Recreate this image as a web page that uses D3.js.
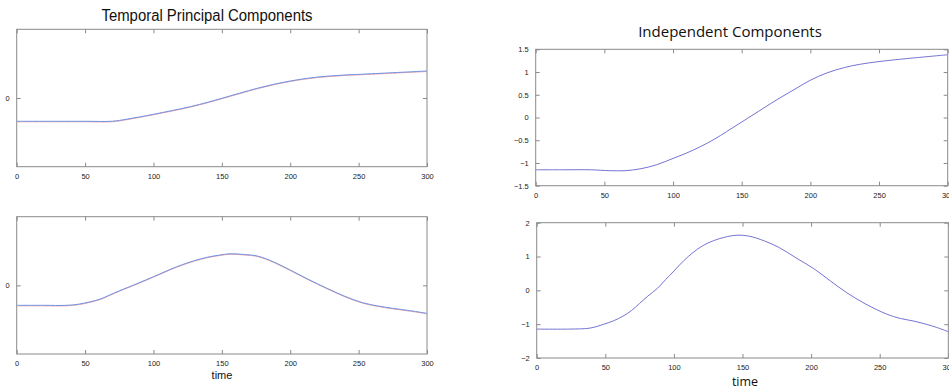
<!DOCTYPE html>
<html>
<head>
<meta charset="utf-8">
<script src="https://cdn.jsdelivr.net/npm/d3@7"></script>
<style>
  body { margin: 0; background: #fff; }
  svg { display: block; }
  .frame { fill: none; stroke: #8a8a8a; stroke-width: 1; }
  .tick line { stroke: #8a8a8a; }
  .tick text { fill: #222; font-family: "Liberation Sans", Arial, sans-serif; font-size: 7.5px; }
</style>
</head>
<body>
<script>
'use strict';

// x ticks shared by all four panels
var timeTicks = [0, 50, 100, 150, 200, 250, 300];

// Temporal principal components (left column)
var pc1Time = [0, 30, 50, 70, 80, 90, 100, 113, 127, 140, 150, 163, 176, 188, 200, 210, 220, 230, 240, 251, 275, 300];
var pc1Values = [-0.339, -0.339, -0.339, -0.338, -0.31, -0.275, -0.237, -0.185, -0.126, -0.06, -0.004, 0.07, 0.142, 0.2, 0.247, 0.28, 0.305, 0.322, 0.335, 0.345, 0.368, 0.393];

var pc2Time = [0, 20, 36, 46, 61, 68, 75, 88, 100, 117, 130, 139, 148, 156, 166, 176, 188, 200, 213, 227, 240, 253, 264, 275, 288, 300];
var pc2Values = [-0.291, -0.291, -0.291, -0.272, -0.2, -0.14, -0.08, 0.025, 0.126, 0.271, 0.36, 0.408, 0.44, 0.46, 0.45, 0.427, 0.34, 0.223, 0.09, -0.044, -0.16, -0.253, -0.3, -0.335, -0.37, -0.408];

// Independent components (right column)
var ic1Time = [0, 20, 40, 54, 65, 76, 88, 100, 110, 120, 130, 139, 150, 162, 175, 188, 200, 212, 225, 236, 250, 265, 275, 300];
var ic1Values = [-1.15, -1.15, -1.15, -1.17, -1.17, -1.13, -1.04, -0.9, -0.78, -0.64, -0.48, -0.31, -0.1, 0.13, 0.38, 0.61, 0.82, 0.98, 1.1, 1.17, 1.23, 1.28, 1.31, 1.38];

var ic2Time = [0, 24, 39, 49, 56, 63, 69, 75, 81, 88, 94, 100, 107, 114, 121, 129, 137, 146, 155, 166, 177, 189, 202, 214, 226, 240, 255, 265, 275, 288, 300];
var ic2Values = [-1.145, -1.145, -1.115, -1.0, -0.9, -0.76, -0.6, -0.385, -0.17, 0.06, 0.32, 0.57, 0.87, 1.12, 1.32, 1.47, 1.57, 1.63, 1.6, 1.46, 1.26, 0.96, 0.64, 0.28, -0.07, -0.41, -0.7, -0.83, -0.91, -1.05, -1.22];

var pcTicks = [0];
var ic1Ticks = [-1.5, -1, -0.5, 0, 0.5, 1, 1.5];
var ic2Ticks = [-2, -1, 0, 1, 2];

var width = 949, height = 389;

var svg = d3.select('body').append('svg')
    .attr('width', width)
    .attr('height', height);

function zip(ts, vs) {
    return ts.map(function (t, i) { return [t, vs[i]]; });
}

/**drawPanel
 *  box with inward ticks on all four sides, matlab style
 */
function drawPanel(opts) {
    var x = d3.scaleLinear().domain([0, 300]).range([opts.left, opts.right]);
    var y = d3.scaleLinear().domain(opts.yDomain).range([opts.bottom, opts.top]);
    var g = svg.append('g');

    g.append('rect')
        .attr('class', 'frame')
        .attr('x', opts.left)
        .attr('y', opts.top)
        .attr('width', opts.right - opts.left)
        .attr('height', opts.bottom - opts.top);

    // labelled bottom axis, bare top ticks
    g.append('g')
        .attr('transform', 'translate(0,' + opts.bottom + ')')
        .call(d3.axisBottom(x).tickValues(timeTicks).tickSizeInner(-4).tickSizeOuter(0).tickPadding(7).tickFormat(d3.format('d')))
        .call(function (a) { a.select('.domain').remove(); });
    g.append('g')
        .attr('transform', 'translate(0,' + opts.top + ')')
        .call(d3.axisTop(x).tickValues(timeTicks).tickSizeInner(-4).tickSizeOuter(0).tickFormat(''))
        .call(function (a) { a.select('.domain').remove(); });

    g.append('g')
        .attr('transform', 'translate(' + opts.left + ',0)')
        .call(d3.axisLeft(y).tickValues(opts.yTicks).tickSizeInner(-4).tickSizeOuter(0).tickPadding(7).tickFormat(d3.format('')))
        .call(function (a) { a.select('.domain').remove(); });
    g.append('g')
        .attr('transform', 'translate(' + opts.right + ',0)')
        .call(d3.axisRight(y).tickValues(opts.yTicks).tickSizeInner(-4).tickSizeOuter(0).tickFormat(''))
        .call(function (a) { a.select('.domain').remove(); });

    var line = d3.line()
        .x(function (d) { return x(d[0]); })
        .y(function (d) { return y(d[1]); })
        .curve(d3.curveCatmullRom.alpha(0.5));

    opts.lines.forEach(function (l) {
        g.append('path')
            .datum(l.data)
            .attr('d', line)
            .attr('fill', 'none')
            .attr('stroke', l.color)
            .attr('stroke-width', 1)
            .attr('transform', l.shift ? 'translate(0,' + l.shift + ')' : null);
    });
}

drawPanel({
    left: 16.7, right: 427, top: 29.3, bottom: 166.7,
    yDomain: [-1, 1], yTicks: pcTicks,
    lines: [
        { data: zip(pc1Time, pc1Values), color: '#f4a6a6', shift: 0.5 },
        { data: zip(pc1Time, pc1Values), color: '#6f93e6' }
    ]
});

drawPanel({
    left: 16.7, right: 427, top: 216.7, bottom: 354,
    yDomain: [-1, 1], yTicks: pcTicks,
    lines: [
        { data: zip(pc2Time, pc2Values), color: '#f4a6a6', shift: 0.5 },
        { data: zip(pc2Time, pc2Values), color: '#6f93e6' }
    ]
});

drawPanel({
    left: 535.7, right: 947.7, top: 49.3, bottom: 185.7,
    yDomain: [-1.5, 1.5], yTicks: ic1Ticks,
    lines: [{ data: zip(ic1Time, ic1Values), color: '#7474d2' }]
});

drawPanel({
    left: 536.7, right: 948.3, top: 222.7, bottom: 358,
    yDomain: [-2, 2], yTicks: ic2Ticks,
    lines: [{ data: zip(ic2Time, ic2Values), color: '#7474d2' }]
});

// titles and axis labels
svg.append('text')
    .attr('x', 207).attr('y', 21)
    .attr('text-anchor', 'middle')
    .attr('textLength', 211)
    .attr('lengthAdjust', 'spacingAndGlyphs')
    .style('font-family', '"Liberation Sans", Arial, sans-serif')
    .style('font-size', '16px')
    .attr('fill', '#111')
    .text('Temporal Principal Components');

svg.append('text')
    .attr('x', 730).attr('y', 37.3)
    .attr('text-anchor', 'middle')
    .style('font-family', '"Open Sans", sans-serif')
    .style('font-size', '15px')
    .attr('fill', '#111')
    .text('Independent Components');

svg.append('text')
    .attr('x', 222).attr('y', 378.5)
    .attr('text-anchor', 'middle')
    .style('font-family', '"Liberation Sans", Arial, sans-serif')
    .style('font-size', '11px')
    .attr('fill', '#111')
    .text('time');

svg.append('text')
    .attr('x', 745).attr('y', 385.5)
    .attr('text-anchor', 'middle')
    .style('font-family', '"Open Sans", sans-serif')
    .style('font-size', '12.5px')
    .attr('fill', '#111')
    .text('time');
</script>
</body>
</html>
